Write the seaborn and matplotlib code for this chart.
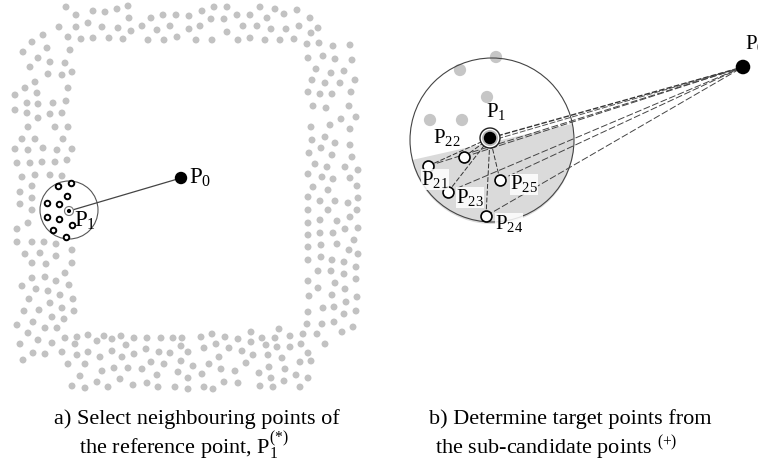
import matplotlib
matplotlib.use("Agg")
import matplotlib.pyplot as plt
import seaborn as sns
import pandas as pd
from matplotlib.patches import Circle, Wedge

sns.set_theme(style="white")
plt.rcParams["font.family"] = ["Liberation Serif", "DejaVu Serif"]
plt.rcParams["mathtext.fontset"] = "custom"
plt.rcParams["mathtext.rm"] = "Liberation Serif"
plt.rcParams["mathtext.it"] = "Liberation Serif"
plt.rcParams["mathtext.default"] = "regular"

# ---------------- data (pixel units) ----------------
top_band = [
    (66, 7), (76, 15), (93, 11), (105, 12), (117, 9), (128, 6), (129, 18), (151, 18), (163, 15), (176, 15),
    (59, 27), (76, 27), (88, 23), (102, 27), (118, 28), (131, 31), (142, 26), (157, 30), (170, 26),
    (43, 35), (32, 42), (47, 48), (68, 37), (81, 39), (93, 38), (109, 38), (123, 39), (148, 40), (164, 40), (177, 37),
    (23, 52), (70, 50), (38, 58),
    (189, 16), (202, 11), (214, 7), (227, 7), (260, 7), (275, 9), (284, 14), (297, 10), (310, 18),
    (189, 29), (200, 26), (211, 19), (224, 19), (237, 15), (250, 15), (267, 18),
    (243, 26), (257, 26), (271, 29), (286, 29), (299, 26), (318, 28),
    (227, 32), (311, 33),
    (196, 40), (212, 40), (238, 40), (250, 38), (265, 40), (280, 40), (294, 39),
]
left_band = [
    (50, 62), (65, 63), (30, 67), (48, 74), (62, 75), (72, 72), (35, 82), (25, 88), (68, 88), (15, 95),
    (37, 93), (27, 103), (38, 104), (53, 103), (66, 101), (15, 110), (27, 113), (38, 118), (50, 114), (62, 113),
    (28, 127), (55, 127), (68, 127), (22, 139), (35, 139), (63, 139), (15, 149), (28, 150), (43, 148), (57, 150),
    (72, 149), (17, 163), (30, 163), (42, 162), (55, 162), (67, 160), (22, 177), (35, 175), (50, 175), (62, 176),
    (32, 186), (20, 192), (32, 198), (20, 204), (32, 210), (28, 223), (17, 229),
    (17, 242), (32, 242), (44, 242), (56, 244), (25, 254), (40, 253), (56, 256), (72, 250),
    (32, 263), (46, 264), (72, 263), (32, 278), (45, 277), (56, 281), (65, 273),
    (22, 286), (36, 289), (48, 291), (60, 295), (69, 285), (29, 299), (50, 303), (73, 299),
    (24, 311), (39, 310), (62, 308), (74, 311), (52, 317), (64, 319),
]
bottom_band = [
    (17, 325), (33, 322), (45, 328), (57, 328), (28, 333), (77, 337), (88, 335), (65, 338),
    (20, 344), (38, 340), (52, 343), (75, 344), (33, 353), (45, 354), (62, 352), (77, 355), (88, 352),
    (23, 360), (68, 364), (85, 364), (80, 376), (72, 386), (85, 388),
    (97, 341), (104, 336), (112, 339), (121, 336), (126, 345), (134, 338), (147, 338), (161, 338), (173, 338),
    (182, 338), (181, 346), (100, 357), (112, 351), (122, 357), (134, 354), (146, 349), (159, 352), (170, 353),
    (188, 352), (102, 371), (114, 368), (128, 368), (142, 369), (151, 362), (164, 364), (181, 361),
    (97, 382), (120, 379), (133, 385), (147, 383), (157, 375), (178, 372), (188, 378), (108, 387), (158, 387), (175, 387),
    (308, 312), (307, 324), (279, 329), (251, 332), (212, 334), (201, 337), (225, 337), (238, 339), (262, 338),
    (275, 338), (290, 336), (303, 334), (204, 348), (216, 344), (229, 348), (242, 351), (251, 342), (266, 345),
    (277, 347), (290, 347), (301, 344), (219, 357), (253, 355), (268, 355), (282, 358), (308, 353),
    (193, 366), (209, 364), (221, 369), (235, 371), (246, 363), (259, 373), (269, 367), (285, 369), (300, 362),
    (202, 374), (224, 382), (238, 383), (271, 378), (284, 381), (296, 375), (308, 378),
    (188, 389), (204, 387), (213, 389), (260, 386), (273, 387), (300, 387),
]
right_band = [
    (307, 44), (319, 43), (333, 46), (350, 45), (308, 58), (323, 56), (335, 59), (352, 60),
    (316, 69), (331, 73), (344, 71), (312, 80), (325, 83), (340, 83), (355, 80),
    (308, 92), (320, 94), (332, 94), (351, 92), (313, 106), (326, 108), (349, 106),
    (341, 119), (356, 117), (311, 127), (330, 125), (350, 129),
    (312, 140), (325, 137), (335, 143), (350, 145), (309, 153), (321, 148), (332, 155), (352, 157),
    (315, 164), (327, 167), (345, 167), (358, 170), (308, 174), (322, 177), (333, 179), (350, 178),
    (313, 187), (328, 190), (357, 186), (308, 197), (320, 201), (335, 201), (348, 203), (358, 198),
    (308, 210), (328, 210), (357, 210), (308, 223), (320, 220), (337, 221), (350, 217),
    (308, 235), (320, 233), (333, 233), (345, 229), (358, 228), (308, 247), (321, 245), (337, 244), (354, 240),
    (308, 260), (321, 257), (332, 260), (344, 262), (349, 250), (358, 254),
    (318, 271), (331, 271), (344, 274), (356, 267), (308, 281), (318, 288), (335, 283), (345, 289), (356, 279),
    (309, 296), (332, 295), (346, 302), (357, 297), (323, 308), (334, 307), (344, 314), (356, 311),
    (322, 324), (334, 322), (342, 332), (353, 327), (317, 334), (325, 344), (311, 361),
]
# neighbouring points of P1 (panel a)
nbr_x = [58, 71, 67, 47, 59, 47, 59, 72, 53, 66]
nbr_y = [186, 183, 196, 203, 204, 217, 219, 225, 230, 237]
# panel a key points
p0_a = (181, 178)
p1_a = (69, 211)
# panel b
p0_b = (743, 67)
p1_b = (490, 138)
grey_b_x = [460, 496, 487, 430, 462]
grey_b_y = [70, 57, 97, 120, 120]
sub_names = ["21", "22", "23", "24", "25"]
sub_x = [428, 464, 448, 486, 500]
sub_y = [166, 157, 192, 216, 180]
sub_label_x = [421, 433, 456, 495, 510]
sub_label_y = [179, 138, 197, 223, 184]

captions = [
    ("a) Select neighbouring points of", 197, 424),
    ("the reference point, P$_1^{(*)}$", 184, 455),
    ("b) Determine target points from", 570, 424),
    ("the sub-candidate points $^{(+)}$", 556, 455),
]

# ---------------- figure ----------------
fig = plt.figure(figsize=(7.58, 4.66), dpi=100)
ax = fig.add_axes([0, 0, 1, 1])
ax.set_xlim(0, 758)
ax.set_ylim(466, 0)
ax.axis("off")

band = pd.DataFrame(top_band + left_band + bottom_band + right_band, columns=["x", "y"])
sns.scatterplot(data=band, x="x", y="y", ax=ax, s=25, color="#c2c2c2",
                edgecolor="none", linewidth=0, legend=False, zorder=2)

# panel a: search circle, line to P0
ax.add_patch(Circle((69, 210), 29, fill=False, edgecolor="#555555", lw=0.8, zorder=3))
ax.plot([p1_a[0], p0_a[0]], [p1_a[1], p0_a[1]], color="#444444", lw=0.9, zorder=3)
sns.scatterplot(x=nbr_x, y=nbr_y, ax=ax, s=16, color="white", edgecolor="black",
                linewidth=1.4, legend=False, zorder=4)
ax.add_patch(Circle(p1_a, 4.5, facecolor="white", edgecolor="#777777", lw=0.8, zorder=4))
sns.scatterplot(x=[p1_a[0]], y=[p1_a[1]], ax=ax, s=9, color="black", edgecolor="none",
                legend=False, zorder=5)
sns.scatterplot(x=[p0_a[0]], y=[p0_a[1]], ax=ax, s=80, color="black", edgecolor="none",
                legend=False, zorder=5)
ax.text(189, 178, "P$_0$", fontsize=16.5, va="center", ha="left", color="black", zorder=6)
ax.text(74, 221, "P$_1$", fontsize=16.5, va="center", ha="left", color="black", zorder=6)

# panel b: shaded half-disc and circle
ax.add_patch(Wedge((492, 142), 82, -12.7, 167.3, facecolor="#dadada", edgecolor="none", zorder=1))
ax.add_patch(Circle((492, 140), 82, fill=False, edgecolor="#444444", lw=0.8, zorder=3))
sns.scatterplot(x=grey_b_x, y=grey_b_y, ax=ax, s=78, color="#c6c6c6", edgecolor="none",
                legend=False, zorder=2)

for sx, sy in zip(sub_x, sub_y):
    ax.plot([sx, p0_b[0]], [sy, p0_b[1]], color="#444444", lw=0.7, dashes=(7, 2.5), zorder=3)
    ax.plot([sx, p1_b[0]], [sy, p1_b[1]], color="#333333", lw=0.7, dashes=(5, 2), zorder=3)
ax.plot([p1_b[0], p0_b[0]], [p1_b[1], p0_b[1]], color="#333333", lw=1.0, dashes=(4, 1.5), zorder=3)
ax.plot([p1_b[0], p0_b[0]], [p1_b[1] + 3, p0_b[1]], color="#555555", lw=0.7, dashes=(6, 2), zorder=3)

sns.scatterplot(x=sub_x, y=sub_y, ax=ax, s=62, color="white", edgecolor="black",
                linewidth=1.2, legend=False, zorder=5)
ax.add_patch(Circle(p1_b, 10, facecolor="white", edgecolor="#222222", lw=1.0, zorder=5))
ax.add_patch(Circle(p1_b, 8, facecolor="#bbbbbb", edgecolor="none", zorder=5))
sns.scatterplot(x=[p1_b[0]], y=[p1_b[1]], ax=ax, s=80, color="black", edgecolor="none",
                legend=False, zorder=6)
sns.scatterplot(x=[p0_b[0]], y=[p0_b[1]], ax=ax, s=110, color="black", edgecolor="none",
                legend=False, zorder=6)
ax.text(745, 44, "P$_0$", fontsize=15, va="center", ha="left", color="black", zorder=7)
ax.text(486, 112, "P$_1$", fontsize=15, va="center", ha="left", color="black", zorder=7)
for name, lx, ly in zip(sub_names, sub_label_x, sub_label_y):
    ax.text(lx, ly, "P$_{%s}$" % name, fontsize=15, va="center", ha="left", color="black", zorder=7,
            bbox=dict(facecolor="white", edgecolor="none", pad=0.0, alpha=0.85) if name != "22" else None)

for txt, cx, cy in captions:
    ax.text(cx, cy, txt, fontsize=16, ha="center", va="baseline", color="black")

fig.savefig("out.png", dpi=100)
